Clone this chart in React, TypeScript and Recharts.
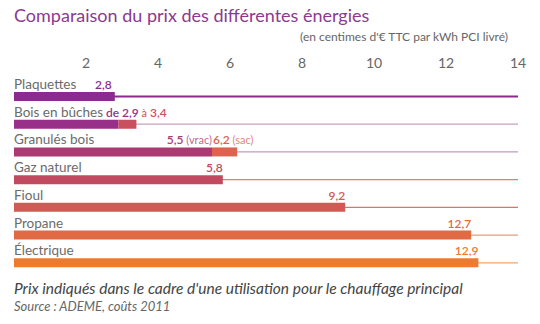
import { BarChart, Bar, XAxis, YAxis, Cell, LabelList } from "recharts"

const categories = ["Plaquettes", "Bois en bûches", "Granulés bois", "Gaz naturel", "Fioul", "Propane", "Électrique"]
const lowValues = [2.8, 2.9, 5.5, 5.8, 9.2, 12.7, 12.9]
const highValues = [2.8, 3.4, 6.2, 5.8, 9.2, 12.7, 12.9]
const rangeNotes: (string[] | null)[] = [null, null, ["vrac", "sac"], null, null, null, null]
const xTicks = [2, 4, 6, 8, 10, 12, 14]

const baseColors = ["#8c2b8f", "#982f88", "#ab3a72", "#c14a60", "#d15a55", "#df6a44", "#ee7b2d"]
const extColors = ["#8c2b8f", "#c9505e", "#dc644f", "#c14a60", "#d15a55", "#df6a44", "#ee7b2d"]
const lineColors = ["#8c2b8f", "#c79fc3", "#c29ac0", "#d77f7f", "#d87565", "#e59c78", "#f0a56c"]

const data = categories.map((name, i) => ({
  name,
  low: lowValues[i],
  ext: Math.round((highValues[i] - lowValues[i]) * 10) / 10,
}))

const fr = (v: number) => String(v).replace(".", ",")

function RowLine(props: any) {
  const { x, y, width, height, index } = props
  const cy = y + height / 2
  return (
    <line
      x1={x}
      x2={x + width}
      y1={cy}
      y2={cy}
      stroke={lineColors[index] ?? "#ccc"}
      strokeWidth={index === 0 ? 2 : 1.2}
    />
  )
}

function RowLabel(props: any) {
  const { x, y, width, index } = props
  const i = index
  const low = lowValues[i]
  const high = highValues[i]
  const notes = rangeNotes[i]
  const ty = y - 3
  const end = x + width
  const isRange = high > low

  if (isRange && !notes) {
    return (
      <text x={x} y={ty} fontSize={13.5} fill="#6b6b6b">
        {categories[i]}
        <tspan fill={baseColors[i]} fontWeight={600} fontSize={12}> de {fr(low)}</tspan>
        <tspan fill={extColors[i]} fontSize={11}> à</tspan>
        <tspan fill={extColors[i]} fontWeight={600} fontSize={12}> {fr(high)}</tspan>
      </text>
    )
  }

  return (
    <g>
      <text x={x} y={ty} fontSize={13.5} fill="#6b6b6b">
        {categories[i]}
      </text>
      {isRange && notes ? (
        <>
          <text x={end} y={ty} textAnchor="end" fontSize={12}>
            <tspan fill={baseColors[i]} fontWeight={600}>{fr(low)}</tspan>
            <tspan fill={baseColors[i]} fontSize={11} fillOpacity={0.8}> ({notes[0]})</tspan>
          </text>
          <text x={end + 1} y={ty} fontSize={12}>
            <tspan fill={extColors[i]} fontWeight={600}>{fr(high)}</tspan>
            <tspan fill={extColors[i]} fontSize={11} fillOpacity={0.8}> ({notes[1]})</tspan>
          </text>
        </>
      ) : (
        <text x={end - (i === 0 ? 3 : 0)} y={ty} textAnchor="end" fontSize={12} fontWeight={600} fill={baseColors[i]}>
          {fr(low)}
        </text>
      )}
    </g>
  )
}

export default function App() {
  return (
    <div
      style={{
        position: "absolute",
        left: 0,
        top: 0,
        width: 540,
        height: 324,
        background: "#fff",
        fontFamily: "Lato, 'Open Sans', sans-serif",
      }}
    >
      <div style={{ position: "absolute", left: 14, top: 5, fontSize: 18, lineHeight: "20px", color: "#8b3a8e" }}>
        Comparaison du prix des différentes énergies
      </div>
      <div style={{ position: "absolute", right: 32, top: 30, fontSize: 12, lineHeight: "14px", color: "#666" }}>
        (en centimes d'€ TTC par kWh PCI livré)
      </div>
      <BarChart
        width={540}
        height={324}
        data={data}
        layout="vertical"
        margin={{ top: 53, right: 22, left: 14, bottom: 47 }}
        barSize={9}
      >
        <XAxis
          type="number"
          orientation="top"
          domain={[0, 14]}
          ticks={xTicks}
          axisLine={false}
          tickLine={false}
          tickSize={0}
          tickMargin={15}
          height={30}
          tick={{ fill: "#666", fontSize: 14 }}
        />
        <YAxis type="category" dataKey="name" hide width={0} />
        <Bar dataKey="low" stackId="a" isAnimationActive={false} background={<RowLine />}>
          {data.map((_, i) => (
            <Cell key={i} fill={baseColors[i]} />
          ))}
          <LabelList dataKey="low" content={<RowLabel />} />
        </Bar>
        <Bar dataKey="ext" stackId="a" isAnimationActive={false}>
          {data.map((_, i) => (
            <Cell key={i} fill={extColors[i]} />
          ))}
        </Bar>
      </BarChart>
      <div
        style={{
          position: "absolute",
          left: 14,
          top: 279,
          fontSize: 15.5,
          lineHeight: "18px",
          fontStyle: "italic",
          color: "#444",
        }}
      >
        Prix indiqués dans le cadre d'une utilisation pour le chauffage principal
      </div>
      <div
        style={{
          position: "absolute",
          left: 14,
          top: 299,
          fontSize: 13,
          lineHeight: "15px",
          fontStyle: "italic",
          color: "#666",
        }}
      >
        Source : ADEME, coûts 2011
      </div>
    </div>
  )
}
